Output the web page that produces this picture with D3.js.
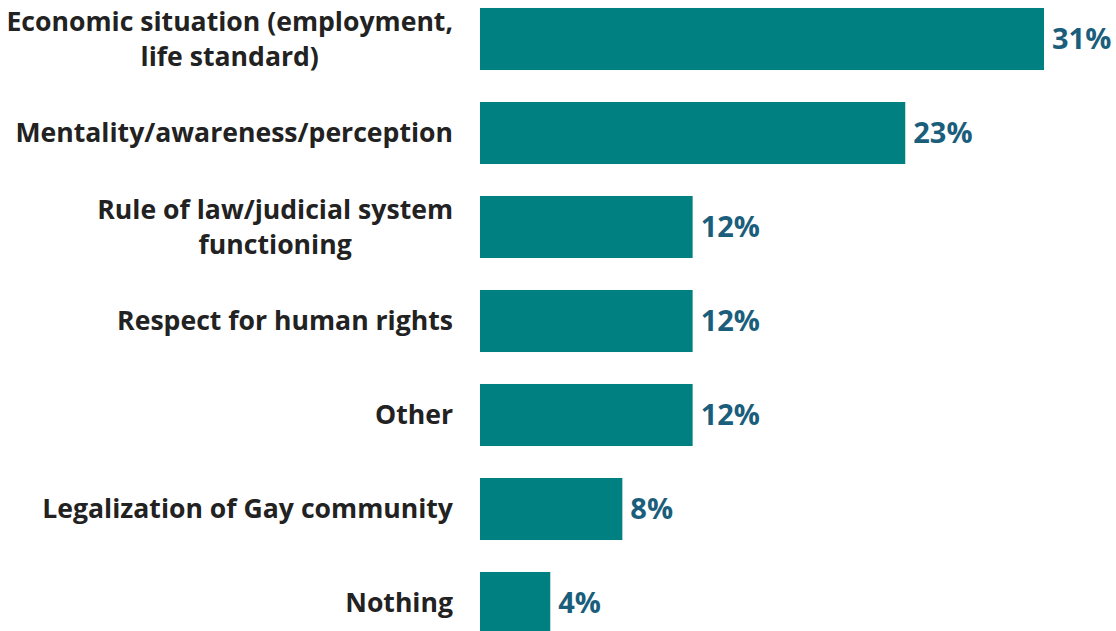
<!DOCTYPE html>
<html><head><meta charset="utf-8">
<script src="https://cdn.jsdelivr.net/npm/d3@7"></script>
<style>body{margin:0;background:#fff;}svg{display:block;}</style>
</head><body>
<svg id="chart" width="1116" height="631"></svg>
<script>
const categories = [
  ["Economic situation (employment,", "life standard)"],
  ["Mentality/awareness/perception"],
  ["Rule of law/judicial system", "functioning"],
  ["Respect for human rights"],
  ["Other"],
  ["Legalization of Gay community"],
  ["Nothing"]
];
const values = [31.3, 23.6, 11.8, 11.8, 11.8, 7.9, 3.9];
const valueLabels = ["31%", "23%", "12%", "12%", "12%", "8%", "4%"];

const svg = d3.select("#chart");
const x0 = 480, labelRight = 453;
const x = d3.scaleLinear().domain([0, 31.3]).range([x0, 1044]);
const y = d3.scaleBand().domain(d3.range(values.length)).range([-8, 650]).paddingInner(0.34).paddingOuter(0.17);

svg.selectAll("rect.bar").data(values).join("rect")
  .attr("class", "bar")
  .attr("x", x(0)).attr("y", (d, i) => y(i))
  .attr("width", d => x(d) - x(0)).attr("height", y.bandwidth())
  .attr("fill", "#008080");

svg.selectAll("text.val").data(values).join("text")
  .attr("class", "val")
  .attr("x", d => x(d) + 8).attr("y", (d, i) => y(i) + y.bandwidth() / 2)
  .attr("dy", "0.35em")
  .attr("font-family", "'Open Sans', sans-serif").attr("font-weight", "bold").attr("font-size", 29)
  .attr("fill", "#1B5E7B")
  .text((d, i) => valueLabels[i]);

const fontSize = 26.6, lineH = 35;
categories.forEach((lines, i) => {
  const cy = y(i) + y.bandwidth() / 2;
  const g = svg.append("g");
  const ts = lines.map((t, k) => g.append("text")
    .attr("font-family", "'Open Sans', sans-serif").attr("font-weight", "bold").attr("font-size", fontSize)
    .attr("fill", "#222").attr("text-anchor", "middle")
    .attr("y", cy + (k - (lines.length - 1) / 2) * lineH).attr("dy", "0.35em")
    .text(t));
  const maxW = d3.max(ts, t => t.node().getComputedTextLength());
  ts.forEach(t => t.attr("x", labelRight - maxW / 2));
});
</script>
</body></html>
